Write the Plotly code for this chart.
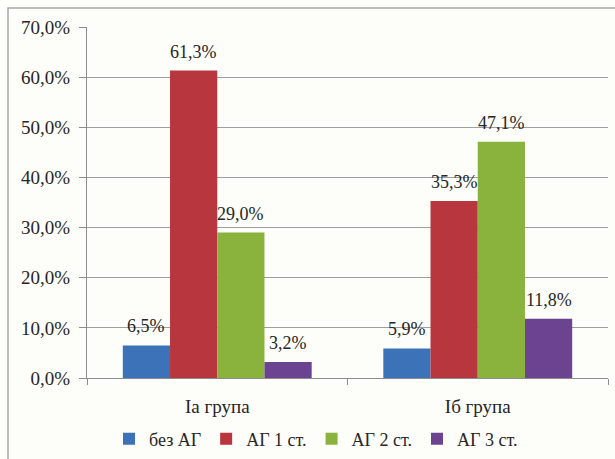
import plotly.graph_objects as go

# Groups and the share of patients in each hypertension stage
groups = ["Ia група", "Iб група"]
series_names = ["без АГ", "АГ 1 ст.", "АГ 2 ст.", "АГ 3 ст."]
values = [
    [6.5, 5.9],
    [61.3, 35.3],
    [29.0, 47.1],
    [3.2, 11.8],
]
colors = ["#3C72B8", "#B8363D", "#8AB33E", "#6C4390"]

y_ticks = [0, 10, 20, 30, 40, 50, 60, 70]
y_tick_text = [f"{v:.1f}%".replace(".", ",") for v in y_ticks]

FONT = "'Liberation Serif', 'Times New Roman', serif"
TEXT_COLOR = "#262626"
AXIS_COLOR = "#8C8C8C"

BARGAP = 0.275
n_series = len(series_names)
bar_w = (1 - BARGAP) / n_series


def pct(v):
    return f"{v:.1f}%".replace(".", ",")


fig = go.Figure()
annotations = []
for i, (name, vals, col) in enumerate(zip(series_names, values, colors)):
    fig.add_trace(go.Bar(
        name=name,
        x=groups,
        y=vals,
        marker=dict(color=col, line=dict(width=0)),
    ))
    # value labels sit a little above each bar
    offset = -(1 - BARGAP) / 2 + bar_w * (i + 0.5)
    for g, v in enumerate(vals):
        annotations.append(dict(
            x=g + offset, y=v, xref="x", yref="y",
            text=pct(v), showarrow=False,
            yanchor="bottom", yshift=7,
            font=dict(family=FONT, size=18, color=TEXT_COLOR),
        ))

W, H = 615, 459
L, R, T, B = 87, 7, 27, 81
pw = W - L - R
ph = H - T - B


def px_x(x):
    return (x - L) / pw


def px_y(y):
    return (H - B - y) / ph


fig.update_layout(
    width=W,
    height=H,
    margin=dict(l=L, r=R, t=T, b=B, autoexpand=False),
    paper_bgcolor="#FDFDF9",
    plot_bgcolor="#FDFDF9",
    barmode="group",
    bargap=BARGAP,
    bargroupgap=0,
    font=dict(family=FONT, size=18, color=TEXT_COLOR),
    showlegend=True,
    legend=dict(
        orientation="h",
        x=px_x(316),
        xanchor="center",
        y=px_y(439),
        yanchor="middle",
        font=dict(family=FONT, size=18, color=TEXT_COLOR),
        itemwidth=30,
        bgcolor="rgba(0,0,0,0)",
        traceorder="normal",
    ),
    annotations=annotations,
    shapes=[
        dict(
            type="rect", xref="paper", yref="paper",
            x0=px_x(8), x1=px_x(W + 10), y0=px_y(H + 10), y1=px_y(8),
            line=dict(color="#A6A6A6", width=1.5),
            fillcolor="rgba(0,0,0,0)",
            layer="below",
        )
    ],
)

fig.update_yaxes(
    range=[0, 70],
    tickvals=y_ticks,
    ticktext=y_tick_text,
    showgrid=True,
    gridcolor="#9E9E9E",
    gridwidth=1,
    showline=True,
    linecolor=AXIS_COLOR,
    linewidth=1,
    ticks="outside",
    ticklen=7,
    tickcolor=AXIS_COLOR,
    ticklabelstandoff=5,
    tickfont=dict(family=FONT, size=19, color=TEXT_COLOR),
    zeroline=False,
)
fig.update_xaxes(
    showline=True,
    linecolor=AXIS_COLOR,
    linewidth=1,
    ticks="outside",
    tickson="boundaries",
    ticklen=6,
    tickcolor=AXIS_COLOR,
    ticklabelstandoff=11,
    tickfont=dict(family=FONT, size=19, color=TEXT_COLOR),
    showgrid=False,
)

fig.write_html("out.html")
